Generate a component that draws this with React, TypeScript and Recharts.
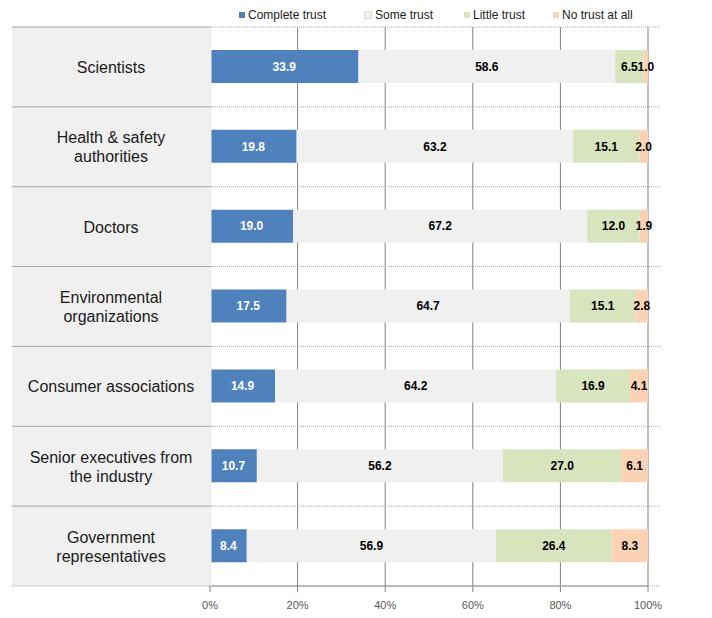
import React from "react";
import { Bar, BarChart, CartesianGrid, LabelList, XAxis, YAxis } from "recharts";

const groups = [
  "Scientists",
  "Health & safety\nauthorities",
  "Doctors",
  "Environmental\norganizations",
  "Consumer associations",
  "Senior executives from\nthe industry",
  "Government\nrepresentatives"
];
const complete = [33.9, 19.8, 19.0, 17.5, 14.9, 10.7, 8.4];
const some = [58.6, 63.2, 67.2, 64.7, 64.2, 56.2, 56.9];
const little = [6.5, 15.1, 12.0, 15.1, 16.9, 27.0, 26.4];
const none = [1.0, 2.0, 1.9, 2.8, 4.1, 6.1, 8.3];
const pctTicks = [0, 0.2, 0.4, 0.6, 0.8, 1];

const series = [
  { key: "complete", name: "Complete trust", color: "#4F81BD", text: "#ffffff" },
  { key: "some", name: "Some trust", color: "#F0F0F0", text: "#000000" },
  { key: "little", name: "Little trust", color: "#D7E4BD", text: "#000000" },
  { key: "none", name: "No trust at all", color: "#FCD2B4", text: "#000000" }
];

const data = groups.map((name, i) => ({
  name,
  complete: complete[i],
  some: some[i],
  little: little[i],
  none: none[i]
}));

const FONT = "'Liberation Sans', Arial, sans-serif";
const W = 712;
const H = 618;
const TOP = 27;
const BOTTOM = 586;
const ROW = (BOTTOM - TOP) / groups.length;

function CategoryTick(props: any) {
  const { y, payload, index } = props;
  const lines = String(payload.value).split("\n");
  const top = y - ROW / 2;
  return (
    <g>
      <rect x={12} y={top} width={199.5} height={ROW} fill="#F0F0F0" />
      <line x1={12} x2={211} y1={top} y2={top} stroke="#A6A6A6" />
      <line x1={211} x2={660} y1={top} y2={top} stroke="#A6A6A6" strokeDasharray="1 1" />
      {index === groups.length - 1 && (
        <line x1={12} x2={660} y1={top + ROW} y2={top + ROW} stroke="#A6A6A6" strokeDasharray="1 1" />
      )}
      <text
        x={111}
        y={y - ((lines.length - 1) * 19) / 2}
        textAnchor="middle"
        dominantBaseline="central"
        fontSize={16}
        fill="#1a1a1a"
        fontFamily={FONT}
      >
        {lines.map((l, i) => (
          <tspan key={i} x={111} dy={i === 0 ? 0 : 19}>
            {l}
          </tspan>
        ))}
      </text>
    </g>
  );
}

const legendPos = [239, 364, 464, 553];

export default function App() {
  return (
    <div style={{ position: "absolute", left: 0, top: 0, width: W, height: H, background: "#fff" }}>
      <BarChart
        width={W}
        height={H}
        data={data}
        layout="vertical"
        stackOffset="expand"
        barSize={33}
        margin={{ top: TOP, right: 64, bottom: 0, left: 12 }}
      >
        <CartesianGrid horizontal={false} stroke="#808080" />
        <XAxis
          type="number"
          domain={[0, 1]}
          ticks={pctTicks}
          tickFormatter={(v: number) => `${Math.round(v * 100)}%`}
          height={H - BOTTOM}
          axisLine={{ stroke: "#808080" }}
          tickLine={{ stroke: "#808080" }}
          tickSize={6}
          tickMargin={9}
          tick={{ fill: "#595959", fontSize: 11, fontFamily: FONT }}
        />
        <YAxis
          type="category"
          dataKey="name"
          width={198}
          axisLine={false}
          tickLine={false}
          tick={<CategoryTick />}
          interval={0}
        />
        {series.map((s) => (
          <Bar key={s.key} dataKey={s.key} stackId="a" fill={s.color} isAnimationActive={false}>
            <LabelList
              dataKey={s.key}
              position="center"
              formatter={(v: any) => Number(v).toFixed(1)}
              fill={s.text}
              fontSize={12}
              fontWeight="bold"
              fontFamily={FONT}
            />
          </Bar>
        ))}
      </BarChart>
      {series.map((s, i) => (
        <div
          key={s.key}
          style={{
            position: "absolute",
            left: legendPos[i],
            top: 8,
            display: "flex",
            alignItems: "center",
            fontFamily: FONT,
            fontSize: 12,
            color: "#222"
          }}
        >
          <span
            style={{ width: 6, height: 6, background: s.color, marginRight: 3, border: s.key === "some" ? "1px solid #ddd" : "none" }}
          />
          {s.name}
        </div>
      ))}
    </div>
  );
}
